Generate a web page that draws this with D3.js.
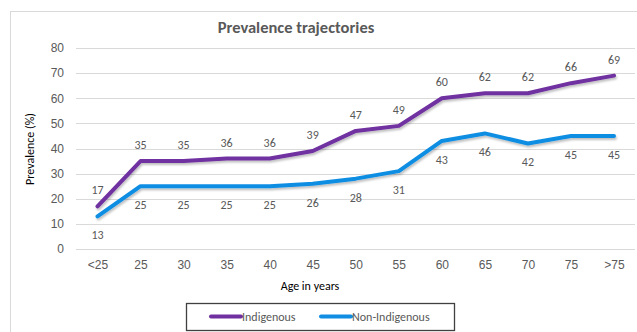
<!DOCTYPE html>
<html>
<head>
<meta charset="utf-8">
<script src="https://cdn.jsdelivr.net/npm/d3@7"></script>
<style>
  html, body { margin: 0; padding: 0; background: #fff; }
  svg { display: block; font-family: Calibri, Carlito, Lato, "Open Sans", "Liberation Sans", sans-serif; }
</style>
</head>
<body>
<svg id="chart" width="637" height="332"></svg>
<script>
// Age groups (x categories)
const ageGroups = ["<25", "25", "30", "35", "40", "45", "50", "55", "60", "65", "70", "75", ">75"];
// Prevalence (%) per age group
const indigenous = [17, 35, 35, 36, 36, 39, 47, 49, 60, 62, 62, 66, 69];
const nonIndigenous = [13, 25, 25, 25, 25, 26, 28, 31, 43, 46, 42, 45, 45];
// Y axis ticks
const yTicks = [0, 10, 20, 30, 40, 50, 60, 70, 80];

const series = [
  { name: "Indigenous", values: indigenous, color: "#7030A0", labelPos: "above" },
  { name: "Non-Indigenous", values: nonIndigenous, color: "#118EE3", labelPos: "below" }
];

const svg = d3.select("#chart");
const textColor = "#595959";

// Chart frame
svg.append("rect")
  .attr("x", 10.5).attr("y", 11.5)
  .attr("width", 640).attr("height", 340)
  .attr("fill", "#fff").attr("stroke", "#d9d9d9").attr("stroke-width", 1);

const x = d3.scalePoint().domain(ageGroups).range([97.5, 614]);
const y = d3.scaleLinear().domain([0, 80]).range([249, 48]);
const plotLeft = 76, plotRight = 635;

// Gridlines
svg.append("g").selectAll("line").data(yTicks).join("line")
  .attr("x1", plotLeft).attr("x2", plotRight)
  .attr("y1", d => Math.round(y(d)) + 0.5).attr("y2", d => Math.round(y(d)) + 0.5)
  .attr("stroke", "#d9d9d9").attr("stroke-width", 1);

// Y axis labels
const yAxis = d3.axisLeft(y).tickValues(yTicks).tickSize(0).tickPadding(0);
const gy = svg.append("g").attr("transform", "translate(64,0)").call(yAxis);
gy.select(".domain").remove();
gy.selectAll("text").attr("fill", textColor).attr("font-size", 12).attr("text-anchor", "end");

// X axis labels
const xAxis = d3.axisBottom(x).tickSize(0).tickPadding(0);
const gx = svg.append("g").attr("transform", "translate(0,260)").call(xAxis);
gx.select(".domain").remove();
gx.selectAll("text").attr("fill", textColor).attr("font-size", 12);

// Title
svg.append("text")
  .attr("x", 296).attr("y", 33)
  .attr("text-anchor", "middle")
  .attr("font-size", 16.5).attr("font-weight", "bold")
  .attr("fill", textColor)
  .text("Prevalence trajectories");

// Axis titles
svg.append("text")
  .attr("transform", "translate(34,149) rotate(-90)")
  .attr("text-anchor", "middle")
  .attr("font-size", 12).attr("fill", "#000")
  .text("Prevalence (%)");

svg.append("text")
  .attr("x", 310).attr("y", 290)
  .attr("text-anchor", "middle")
  .attr("font-size", 12).attr("fill", "#000")
  .text("Age in years");

// Soft shadow under the lines
const defs = svg.append("defs");
const f = defs.append("filter").attr("id", "shadow").attr("x", "-5%").attr("y", "-20%").attr("width", "110%").attr("height", "140%");
f.append("feDropShadow").attr("dx", 1).attr("dy", 2).attr("stdDeviation", 1.2).attr("flood-color", "#000").attr("flood-opacity", 0.25);

const line = d3.line().x((d, i) => x(ageGroups[i])).y(d => y(d));

series.forEach(s => {
  svg.append("path")
    .datum(s.values)
    .attr("d", line)
    .attr("fill", "none")
    .attr("stroke", s.color)
    .attr("stroke-width", 4)
    .attr("stroke-linejoin", "round")
    .attr("stroke-linecap", "round")
    .attr("filter", "url(#shadow)");
});

// Data labels
series.forEach(s => {
  svg.append("g").selectAll("text").data(s.values).join("text")
    .attr("x", (d, i) => x(ageGroups[i]))
    .attr("y", d => s.labelPos === "above" ? y(d) - 12 : y(d) + 23)
    .attr("text-anchor", "middle")
    .attr("font-size", 12).attr("fill", textColor)
    .text(d => d);
});

// Legend
const legend = svg.append("g");
legend.append("rect")
  .attr("x", 186.5).attr("y", 303.5)
  .attr("width", 268).attr("height", 27)
  .attr("fill", "#fff").attr("stroke", "#404040").attr("stroke-width", 1.3);

const legendItems = [
  { s: series[0], x0: 211 },
  { s: series[1], x0: 321 }
];
legendItems.forEach(li => {
  legend.append("line")
    .attr("x1", li.x0).attr("x2", li.x0 + 30)
    .attr("y1", 316.5).attr("y2", 316.5)
    .attr("stroke", li.s.color).attr("stroke-width", 4).attr("stroke-linecap", "round");
  legend.append("text")
    .attr("x", li.x0 + 31).attr("y", 321)
    .attr("font-size", 12).attr("fill", textColor)
    .text(li.s.name);
});
</script>
</body>
</html>
